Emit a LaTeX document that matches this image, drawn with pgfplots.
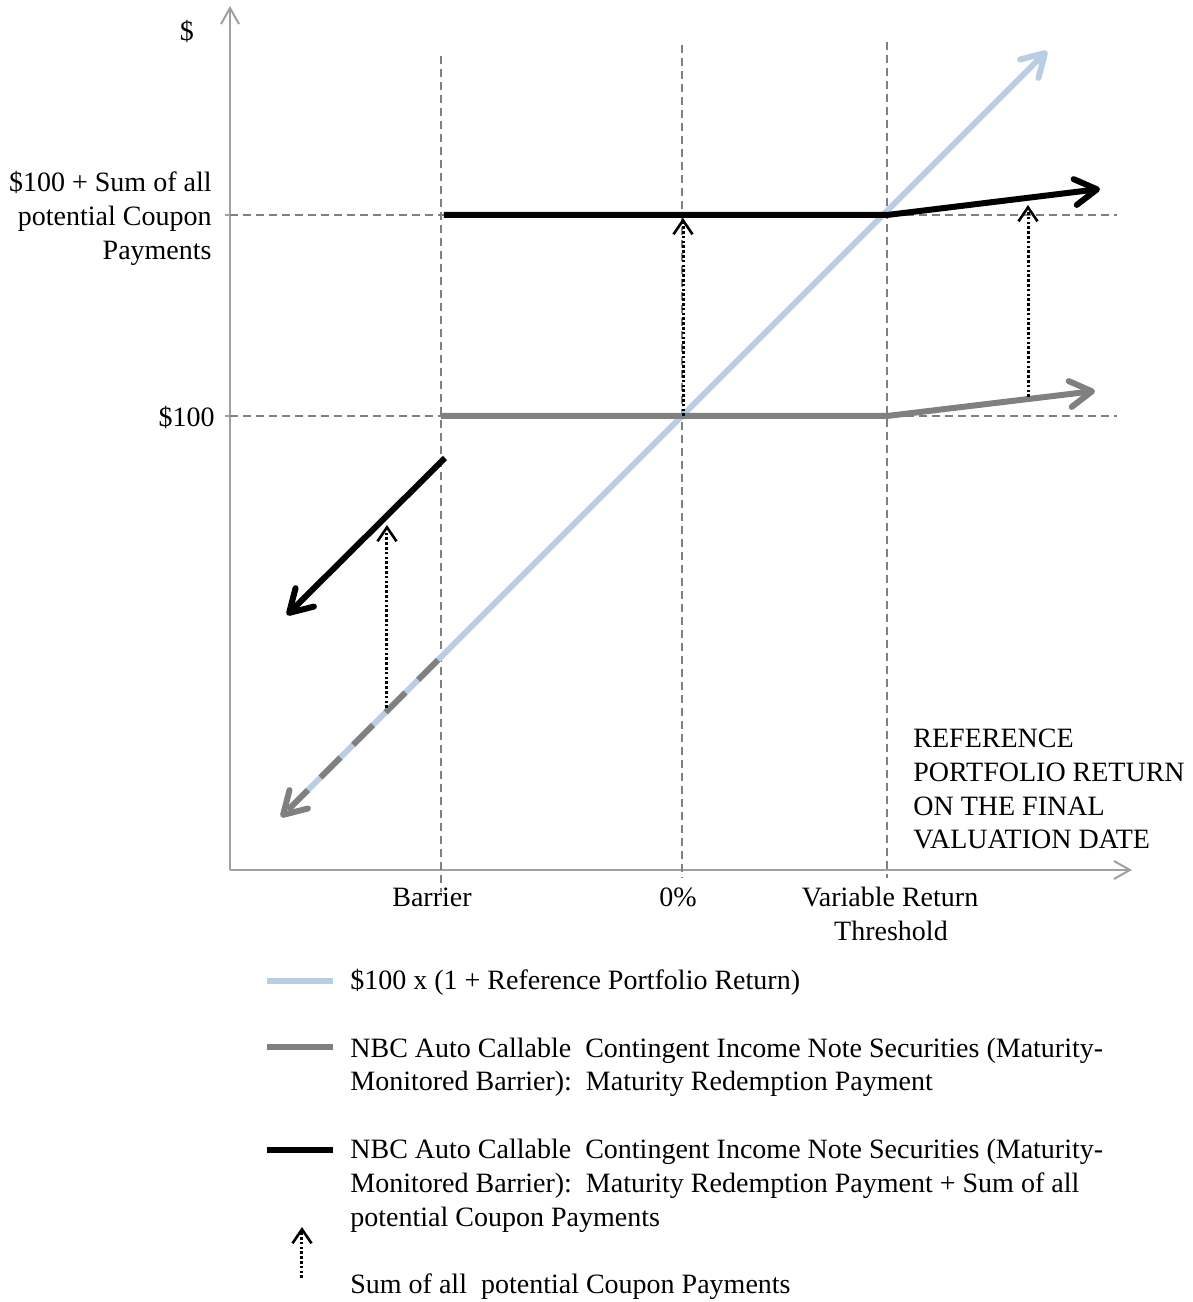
\documentclass[border=0pt]{standalone}
\usepackage{fontspec}
\setmainfont{Liberation Serif}
\usepackage{pgfplots}
\pgfplotsset{compat=1.18}
\usetikzlibrary{arrows.meta}
\definecolor{refblue}{HTML}{B9CDE5}
\definecolor{paygray}{HTML}{808080}
\definecolor{axisgray}{HTML}{A0A0A0}
\definecolor{dashgray}{HTML}{808080}
\newcommand{\lf}{\fontsize{14}{17}\selectfont}
\tikzset{
  bigtip/.style={-{Straight Barb[length=11pt,width=13pt,round]}},
  dottip/.style={-{Straight Barb[length=7pt,width=9.5pt,line width=1.3pt]}},
  refdash/.style={dashgray, line width=0.75pt, dash pattern=on 4pt off 2.5pt},
  coupon/.style={black, line width=1.5pt, dash pattern=on 1.3pt off 1.1pt, dottip},
  lbl/.style={font=\lf, inner sep=0pt},
}
\begin{document}
\begin{tikzpicture}
\begin{axis}[
  scale only axis, width=451pt, height=432pt,
  xmin=0, xmax=902, ymin=0, ymax=864,
  axis lines=left,
  axis line style={draw=axisgray, line width=1pt, -{Straight Barb[length=8pt,width=9pt]}},
  xtick=\empty,
  ytick={454,655}, yticklabels={,,},
  major tick length=2.5pt, tick align=outside,
  tick style={axisgray, line width=0.8pt},
  clip=false, no markers,
]
% reference dashed lines
\addplot[refdash] coordinates {(0,655) (887,655)};
\addplot[refdash] coordinates {(0,454) (887,454)};
\addplot[refdash] coordinates {(211,814) (211,-22)};
\addplot[refdash] coordinates {(452,825) (452,-8)};
\addplot[refdash] coordinates {(657,828) (657,-8)};
% $100 x (1 + Reference Portfolio Return)
\addplot[refblue, line width=3pt, bigtip] coordinates {(60,62) (817,819)};
% Maturity redemption payment
\addplot[paygray, line width=3pt, line join=round, bigtip] coordinates {(211,454) (657,454) (865,479)};
\addplot[paygray, line width=3pt, dash pattern=on 14pt off 9pt, bigtip] coordinates {(208,210) (51,53)};
% Maturity redemption payment + coupons
\addplot[black, line width=3pt, line join=round, bigtip] coordinates {(214,655) (657,655) (870,681)};
\addplot[black, line width=3pt, bigtip] coordinates {(215,412) (57,255)};
% coupon arrows
\addplot[coupon] coordinates {(453,454) (453,652)};
\addplot[coupon] coordinates {(798,473) (798,665)};
\addplot[coupon] coordinates {(157,162) (157,345)};
% legend samples
\addplot[refblue, line width=3pt] coordinates {(37,-111) (103,-111)};
\addplot[paygray, line width=3pt] coordinates {(37,-177) (103,-177)};
\addplot[black, line width=3pt] coordinates {(37,-280) (103,-280)};
\addplot[coupon] coordinates {(72,-408) (72,-357)};
% axis texts
\node[lbl, anchor=base] at (axis cs:-43,829) {\$};
\node[lbl, anchor=base east] at (axis cs:-18,678) {\$100 + Sum of all};
\node[lbl, anchor=base east] at (axis cs:-18,644) {potential Coupon};
\node[lbl, anchor=base east] at (axis cs:-18,610) {Payments};
\node[lbl, anchor=base east] at (axis cs:-15,443) {\$100};
\node[lbl, anchor=base] at (axis cs:202,-36) {Barrier};
\node[lbl, anchor=base] at (axis cs:448,-36) {0\%};
\node[lbl, anchor=base] at (axis cs:660,-36) {Variable Return};
\node[lbl, anchor=base] at (axis cs:661,-70) {Threshold};
\node[lbl, anchor=base west] at (axis cs:683,123) {REFERENCE};
\node[lbl, anchor=base west] at (axis cs:683,89) {PORTFOLIO RETURN};
\node[lbl, anchor=base west] at (axis cs:683,55) {ON THE FINAL};
\node[lbl, anchor=base west] at (axis cs:683,22) {VALUATION DATE};
% legend texts
\node[lbl, anchor=base west] at (axis cs:120,-119) {\$100 x (1 + Reference Portfolio Return)};
\node[lbl, anchor=base west] at (axis cs:120,-187) {NBC Auto Callable\ \ Contingent Income Note Securities (Maturity-};
\node[lbl, anchor=base west] at (axis cs:120,-220) {Monitored Barrier):\ \ Maturity Redemption Payment};
\node[lbl, anchor=base west] at (axis cs:120,-288) {NBC Auto Callable\ \ Contingent Income Note Securities (Maturity-};
\node[lbl, anchor=base west] at (axis cs:120,-322) {Monitored Barrier):\ \ Maturity Redemption Payment + Sum of all};
\node[lbl, anchor=base west] at (axis cs:120,-356) {potential Coupon Payments};
\node[lbl, anchor=base west] at (axis cs:120,-423) {Sum of all\ \ potential Coupon Payments};
% picture extent
\path (axis cs:-230,-432) rectangle (axis cs:963,870);
\end{axis}
\end{tikzpicture}
\end{document}
